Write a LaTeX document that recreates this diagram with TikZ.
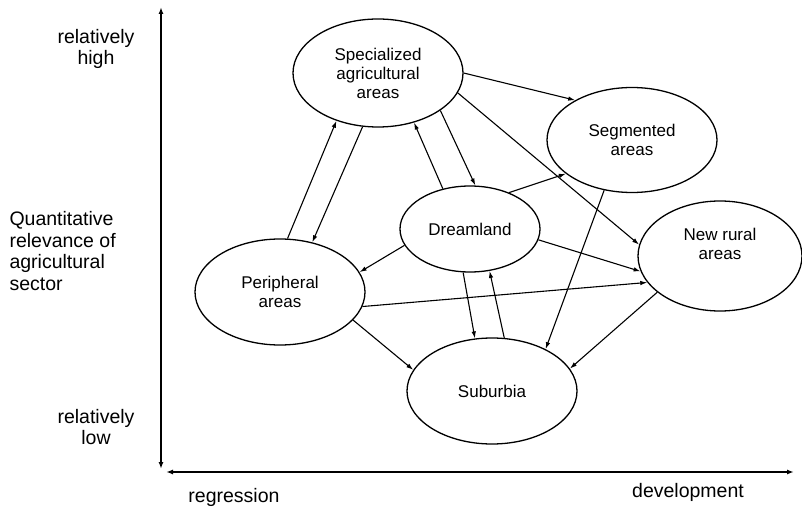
\documentclass[tikz,border=0pt]{standalone}
\usepackage{fontspec}
\setmainfont{Liberation Sans}
\usetikzlibrary{arrows.meta, shapes.geometric}

\begin{document}
\begin{tikzpicture}[x=1pt, y=-1pt,
    area/.style={ellipse, draw, line width=1.3pt, inner sep=0pt, align=center,
        font=\fontsize{17}{19}\selectfont},
    link/.style={-{Latex[length=7pt,width=4.5pt]}, line width=1.1pt},
    axislabel/.style={align=center, font=\fontsize{19.5}{21.5}\selectfont}]
        \useasboundingbox (0,0) rectangle (802,510);

        % Axes
        \coordinate (ytop) at (161,7);
        \coordinate (ybot) at (161,469);
        \coordinate (xleft) at (166,472);
        \coordinate (xright) at (794,472);
        \draw[{Latex[length=7pt,width=5pt]}-{Latex[length=7pt,width=5pt]}, line width=2pt] (ytop) -- (ybot);
        \draw[{Latex[length=7pt,width=5pt]}-{Latex[length=7pt,width=5pt]}, line width=2pt] (xleft) -- (xright);

        % Axis labels
        \node[axislabel] (high) at (96,49) {relatively\\high};
        \node[axislabel, align=left, anchor=west] (relevance) at (6,251) {Quantitative\\relevance of\\agricultural\\sector};
        \node[axislabel] (low) at (96,427) {relatively\\low};
        \node[axislabel] (regression) at (234,497) {regression};
        \node[axislabel] (development) at (688,492) {development};

        % Areas
        \node[area, minimum width=170pt, minimum height=108pt] (spec) at (378,73) {Specialized\\agricultural\\areas};
        \node[area, minimum width=170pt, minimum height=105pt] (seg) at (632,140) {Segmented\\areas};
        \node[area, minimum width=140pt, minimum height=86pt] (dream) at (470,229) {Dreamland};
        \node[area, minimum width=164pt, minimum height=110pt] (newrural) at (720,256) {New rural\\areas\\[6pt]};
        \node[area, minimum width=170pt, minimum height=106pt] (peri) at (280,292) {Peripheral\\areas};
        \node[area, minimum width=170pt, minimum height=106pt] (sub) at (492,391) {Suburbia};

        % Transitions
        \draw[link] (peri.82) -- (spec.229);
        \draw[link] (spec.254) -- (peri.57);
        \draw[link] (dream.124) -- (spec.306);
        \draw[link] (spec.329) -- (dream.83);
        \draw[link] (spec.0) -- (seg.145);
        \draw[link] (spec.346) -- (newrural.172);
        \draw[link] (dream.43) -- (seg.207);
        \draw[link] (dream.351) -- (newrural.191);
        \draw[link] (peri.350) -- (newrural.200);
        \draw[link] (seg.241) -- (sub.38);
        \draw[link] (dream.194) -- (peri.14);
        \draw[link] (dream.261) -- (sub.108);
        \draw[link] (sub.77) -- (dream.295);
        \draw[link] (peri.339) -- (sub.165);
        \draw[link] (newrural.210) -- (sub.16);
\end{tikzpicture}
\end{document}
